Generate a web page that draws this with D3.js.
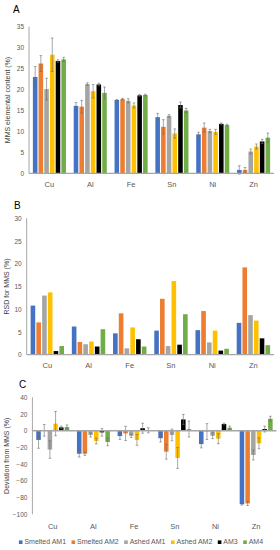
<!DOCTYPE html>
<html>
<head>
<meta charset="utf-8">
<script src="https://cdn.jsdelivr.net/npm/d3@7"></script>
<style>
body{margin:0;background:#fff;}
svg{display:block;font-family:"Liberation Sans",Arial,sans-serif;}
</style>
</head>
<body>
<svg id="chart" width="280" height="550"></svg>
<script>
const categories = ["Cu","Al","Fe","Sn","Ni","Zn"];
const seriesNames = ["Smelted AM1","Smelted AM2","Ashed AM1","Ashed AM2","AM3","AM4"];
const seriesColors = ["#4472C4","#ED7D31","#A5A5A5","#FFC000","#000000","#70AD47"];

// Panel A: MMS elemental content (%)
const contentSmeltedAM1 = [23.0, 16.1, 17.5, 13.4, 9.3, 0.8];
const contentSmeltedAM2 = [26.2, 15.9, 17.7, 11.1, 10.9, 0.8];
const contentAshedAM1   = [20.1, 21.3, 17.3, 13.7, 10.1, 5.2];
const contentAshedAM2   = [28.3, 19.6, 16.2, 9.5, 9.9, 6.4];
const contentAM3        = [26.8, 21.2, 18.6, 16.3, 11.8, 7.6];
const contentAM4        = [27.2, 19.2, 18.7, 15.0, 11.5, 8.5];
const contentErrSmeltedAM1 = [2.5, 0.8, 0.1, 0.9, 0.5, 1.0];
const contentErrSmeltedAM2 = [1.9, 1.5, 0.2, 1.7, 1.1, 0.6];
const contentErrAshedAM1   = [2.6, 0.3, 0.5, 0.3, 0.4, 0.6];
const contentErrAshedAM2   = [4.0, 1.6, 0.6, 1.1, 0.6, 0.6];
const contentErrAM3        = [0.3, 0.3, 0.2, 0.7, 0.2, 0.5];
const contentErrAM4        = [0.5, 1.4, 0.2, 0.5, 0.2, 1.1];
const contentTicks = [0,5,10,15,20,25,30,35];

// Panel B: RSD for MMS (%)
const rsdSmeltedAM1 = [10.8, 6.2, 4.7, 5.3, 5.4, 7.0];
const rsdSmeltedAM2 = [7.1, 2.8, 9.1, 12.3, 9.6, 19.2];
const rsdAshedAM1   = [13.0, 2.3, 1.4, 1.9, 2.7, 8.7];
const rsdAshedAM2   = [13.7, 2.9, 6.0, 16.2, 5.3, 7.5];
const rsdAM3        = [0.8, 1.8, 3.4, 2.2, 0.9, 3.6];
const rsdAM4        = [1.9, 5.6, 1.8, 8.9, 1.3, 2.1];
const rsdTicks = [0,5,10,15,20,25,30];

// Panel C: Deviation from MMS (%)
const devSmeltedAM1 = [-11, -27.5, -6.4, -9, -16, -88];
const devSmeltedAM2 = [0.5, -27.5, -3.2, -25, -1, -87];
const devAshedAM1   = [-22.5, -5, -6, -5, -6, -29];
const devAshedAM2   = [8.5, -12.3, -11, -32.6, -9.5, -15];
const devAM3        = [4, -2, 3, 13.5, 8, 2];
const devAM4        = [4.4, -13.5, 0.5, 2, 3.6, 14.3];
const devErrSmeltedAM1 = [10, 4, 4, 4.5, 4.5, 1];
const devErrSmeltedAM2 = [7, 2, 8.5, 9, 9.5, 2.5];
const devErrAshedAM1   = [10.5, 2.5, 2, 7, 3.5, 6];
const devErrAshedAM2   = [14.5, 3.5, 6.5, 12.5, 6, 6.5];
const devErrAM3        = [1.5, 4.5, 6, 6, 1, 3.5];
const devErrAM4        = [2.5, 4.5, 3, 9.5, 2, 3];
const devTicks = [-100,-80,-60,-40,-20,0,20,40];

const svg = d3.select("#chart");
const axisColor = "#A6A6A6";
const textColor = "#595959";

function drawPanel(cfg){
  const g = svg.append("g");
  const x0 = d3.scaleBand().domain(categories).range([cfg.left, cfg.right])
    .paddingInner(0.19).paddingOuter(0.095);
  const x1 = d3.scaleBand().domain(seriesNames).range([0, x0.bandwidth()])
    .paddingInner(0.2).paddingOuter(0);
  const y = d3.scaleLinear().domain(cfg.domain).range([cfg.bottom, cfg.top]);

  // y axis line
  g.append("line").attr("x1", cfg.left).attr("x2", cfg.left)
    .attr("y1", y(cfg.domain[0])).attr("y2", y(cfg.domain[1]))
    .attr("stroke", axisColor).attr("stroke-width", 1);

  // tick labels
  const yAxis = d3.axisLeft(y).tickValues(cfg.ticks).tickSize(0).tickPadding(0);
  const ax = g.append("g").attr("transform", `translate(${cfg.left - 5},0)`).call(yAxis);
  ax.select(".domain").remove();
  ax.selectAll("text").attr("fill", textColor).style("font-size", "6.5px")
    .style("font-family", '"Liberation Sans",Arial,sans-serif');

  // bars
  seriesNames.forEach((s, si) => {
    const vals = cfg.values[si];
    const errs = cfg.errors ? cfg.errors[si] : null;
    g.append("g").selectAll("rect").data(categories).join("rect")
      .attr("x", (c) => x0(c) + x1(s))
      .attr("width", x1.bandwidth())
      .attr("y", (c, i) => Math.min(y(vals[i]), y(0)))
      .attr("height", (c, i) => Math.abs(y(vals[i]) - y(0)))
      .attr("fill", seriesColors[si]);
    if (errs){
      const eg = g.append("g").attr("stroke", "#6b6b6b").attr("stroke-width", 0.6);
      categories.forEach((c, i) => {
        const cx = x0(c) + x1(s) + x1.bandwidth()/2;
        const yt = y(vals[i] + errs[i]), yb = y(vals[i] - errs[i]);
        eg.append("line").attr("x1", cx).attr("x2", cx).attr("y1", yt).attr("y2", yb);
        eg.append("line").attr("x1", cx-1.3).attr("x2", cx+1.3).attr("y1", yt).attr("y2", yt);
        eg.append("line").attr("x1", cx-1.3).attr("x2", cx+1.3).attr("y1", yb).attr("y2", yb);
      });
    }
  });

  // baseline at zero
  g.append("line").attr("x1", cfg.left).attr("x2", cfg.right)
    .attr("y1", y(0)).attr("y2", y(0))
    .attr("stroke", axisColor).attr("stroke-width", 1.3);

  // category labels
  g.append("g").selectAll("text").data(categories).join("text")
    .attr("x", (c) => x0(c) + x0.bandwidth()/2)
    .attr("y", cfg.catY)
    .attr("text-anchor", "middle")
    .attr("fill", textColor)
    .style("font-size", "7.5px")
    .text((c) => c);

  // axis title
  g.append("text")
    .attr("transform", `translate(${cfg.titleX},${(y(cfg.domain[0]) + y(cfg.domain[1]))/2 + (cfg.titleShift||0)}) rotate(-90)`)
    .attr("text-anchor", "middle")
    .attr("fill", "#404040")
    .style("font-size", "7px")
    .text(cfg.title);

  // panel letter
  g.append("text").attr("x", cfg.letterX).attr("y", cfg.letterY)
    .attr("fill", "#000").style("font-size", "10px").text(cfg.letter);
}

drawPanel({
  letter: "A", letterX: 13, letterY: 13,
  left: 29, right: 274, top: 26.7, bottom: 173.3,
  domain: [0, 35], ticks: contentTicks,
  values: [contentSmeltedAM1, contentSmeltedAM2, contentAshedAM1, contentAshedAM2, contentAM3, contentAM4],
  errors: [contentErrSmeltedAM1, contentErrSmeltedAM2, contentErrAshedAM1, contentErrAshedAM2, contentErrAM3, contentErrAM4],
  catY: 187, title: "MMS elemental content (%)", titleX: 10
});

drawPanel({
  letter: "B", letterX: 14, letterY: 209,
  left: 26.7, right: 274, top: 218.3, bottom: 354.7,
  domain: [0, 30], ticks: rsdTicks,
  values: [rsdSmeltedAM1, rsdSmeltedAM2, rsdAshedAM1, rsdAshedAM2, rsdAM3, rsdAM4],
  errors: null,
  catY: 368, title: "RSD for MMS (%)", titleX: 9
});

drawPanel({
  letter: "C", letterX: 19, letterY: 388,
  left: 32.4, right: 276.5, top: 397.3, bottom: 514.3,
  domain: [-100, 40], ticks: devTicks,
  values: [devSmeltedAM1, devSmeltedAM2, devAshedAM1, devAshedAM2, devAM3, devAM4],
  errors: [devErrSmeltedAM1, devErrSmeltedAM2, devErrAshedAM1, devErrAshedAM2, devErrAM3, devErrAM4],
  catY: 528.5, title: "Deviation from MMS (%)", titleX: 9
});

// legend
const legend = svg.append("g").attr("class", "legend");
let lx = 0;
seriesNames.forEach((s, i) => {
  const item = legend.append("g").attr("transform", `translate(${lx},0)`);
  item.append("rect").attr("x", 0).attr("y", -3.6).attr("width", 3.6).attr("height", 3.6)
    .attr("fill", seriesColors[i]);
  const t = item.append("text").attr("x", 5.5).attr("y", 0).attr("fill", textColor)
    .style("font-size", "7px").text(s);
  lx += 5.5 + t.node().getComputedTextLength() + 5.5;
});
const totalW = lx - 5.5;
legend.attr("transform", `translate(${141 - totalW/2},544)`);
</script>
</body>
</html>
